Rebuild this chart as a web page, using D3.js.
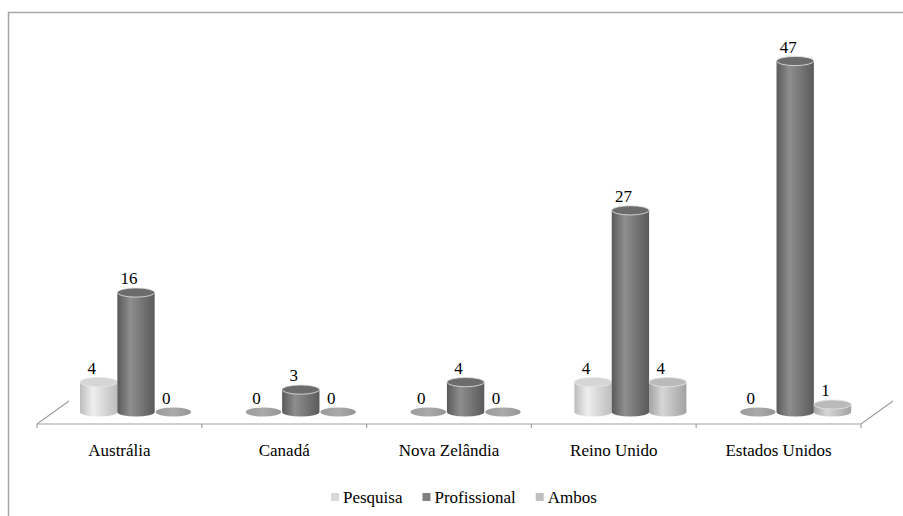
<!DOCTYPE html>
<html>
<head>
<meta charset="utf-8">
<script src="https://cdn.jsdelivr.net/npm/d3@7"></script>
<style>
  body { margin: 0; background: #fff; }
  svg { display: block; }
</style>
</head>
<body>
<svg id="chart" width="903" height="516"></svg>
<script>
// chart data
var categories = ["Austrália", "Canadá", "Nova Zelândia", "Reino Unido", "Estados Unidos"];
var series = ["Pesquisa", "Profissional", "Ambos"];
var pesquisa = [4, 0, 0, 4, 0];
var profissional = [16, 3, 4, 27, 47];
var ambos = [0, 0, 0, 4, 1];
var values = [pesquisa, profissional, ambos];

// look of each series: edge, highlight, top, legend swatch
var looks = {
  "Pesquisa":     {edge: "#bdbdbd", hi: "#eeeeee", top: "#d6d6d6", sw: "#d9d9d9"},
  "Profissional": {edge: "#5a5a5a", hi: "#8e8e8e", top: "#6c6c6c", sw: "#808080"},
  "Ambos":        {edge: "#a2a2a2", hi: "#d6d6d6", top: "#bababa", sw: "#bfbfbf"}
};
var serif = "Liberation Serif";

var svg = d3.select("#chart").attr("font-family", serif);
var defs = svg.append("defs");

series.forEach(function(s, i) {
  var g = defs.append("linearGradient").attr("id", "grad" + i)
    .attr("x1", "0%").attr("x2", "100%").attr("y1", "0%").attr("y2", "0%");
  g.append("stop").attr("offset", "0%").attr("stop-color", looks[s].edge);
  g.append("stop").attr("offset", "35%").attr("stop-color", looks[s].hi);
  g.append("stop").attr("offset", "100%").attr("stop-color", looks[s].edge);
});
var zg = defs.append("linearGradient").attr("id", "gradZero")
  .attr("x1", "0%").attr("x2", "100%").attr("y1", "0%").attr("y2", "0%");
zg.append("stop").attr("offset", "0%").attr("stop-color", "#9a9a9a");
zg.append("stop").attr("offset", "50%").attr("stop-color", "#aaaaaa");
zg.append("stop").attr("offset", "100%").attr("stop-color", "#959595");

// outer frame
svg.append("path")
  .attr("d", "M8.5,520 L8.5,12.5 L910,12.5")
  .attr("fill", "none").attr("stroke", "#a6a6a6").attr("stroke-width", 1.5);

var x0 = d3.scaleBand().domain(categories).range([37, 861]);
var x1 = d3.scaleBand().domain(series).range([43, 155]);
var y = d3.scaleLinear().domain([0, 47]).range([412, 61]);

var floorY = 424;
var depthX = 32, depthY = 23;

// floor
var floor = svg.append("g").attr("stroke", "#a0a0a0").attr("stroke-width", 1.2).attr("fill", "none");
floor.append("line").attr("x1", x0.range()[0]).attr("x2", x0.range()[1]).attr("y1", floorY).attr("y2", floorY);
floor.append("line").attr("x1", x0.range()[0]).attr("y1", floorY)
  .attr("x2", x0.range()[0] + depthX).attr("y2", floorY - depthY);
floor.append("line").attr("x1", x0.range()[1]).attr("y1", floorY)
  .attr("x2", x0.range()[1] + depthX).attr("y2", floorY - depthY);
var ticks = categories.map(function(c) { return x0(c); }).concat([x0.range()[1]]);
floor.selectAll(".tk").data(ticks).enter().append("line")
  .attr("x1", function(d) { return d; }).attr("x2", function(d) { return d; })
  .attr("y1", floorY).attr("y2", floorY + 4);

// category labels
svg.selectAll(".cat").data(categories).enter().append("text")
  .attr("x", function(d) { return x0(d) + x0.bandwidth() / 2; })
  .attr("y", 456)
  .attr("text-anchor", "middle")
  .attr("font-family", serif)
  .style("font-size", "17px")
  .text(function(d) { return d; });

// cylinders
var rx = x1.bandwidth() / 2, ry = 4.6;
var bars = [];
categories.forEach(function(c, ci) {
  series.forEach(function(s, si) {
    bars.push({cat: c, s: s, si: si, v: values[si][ci]});
  });
});

var cyl = svg.selectAll(".cyl").data(bars).enter().append("g");
cyl.each(function(d) {
  var g = d3.select(this);
  var left = x0(d.cat) + x1(d.s);
  var cx = left + rx;
  var base = y(0), top = y(d.v);
  if (d.v === 0) {
    g.append("ellipse").attr("cx", cx).attr("cy", base).attr("rx", rx - 1).attr("ry", ry)
      .attr("fill", "url(#gradZero)");
  } else {
    g.append("path")
      .attr("d", "M" + left + "," + top + " L" + left + "," + base +
        " A" + rx + "," + ry + " 0 0 0 " + (left + 2 * rx) + "," + base +
        " L" + (left + 2 * rx) + "," + top + " Z")
      .attr("fill", "url(#grad" + d.si + ")");
    g.append("ellipse").attr("cx", cx).attr("cy", top).attr("rx", rx).attr("ry", ry)
      .attr("fill", looks[d.s].top).attr("stroke", "#e6e6e6").attr("stroke-width", 0.8);
  }
  g.append("text")
    .attr("x", cx - 7)
    .attr("y", top - 8.5)
    .attr("text-anchor", "middle")
    .attr("font-family", serif)
    .style("font-size", "17px")
    .text(d.v);
});

// legend
var legend = svg.append("g");
var lx = 331;
series.forEach(function(s) {
  legend.append("rect").attr("x", lx).attr("y", 493).attr("width", 8).attr("height", 8)
    .attr("fill", looks[s].sw);
  var t = legend.append("text").attr("x", lx + 12).attr("y", 503)
    .attr("font-family", serif)
    .style("font-size", "17px").text(s);
  lx += 12 + t.node().getComputedTextLength() + 20;
});
</script>
</body>
</html>
